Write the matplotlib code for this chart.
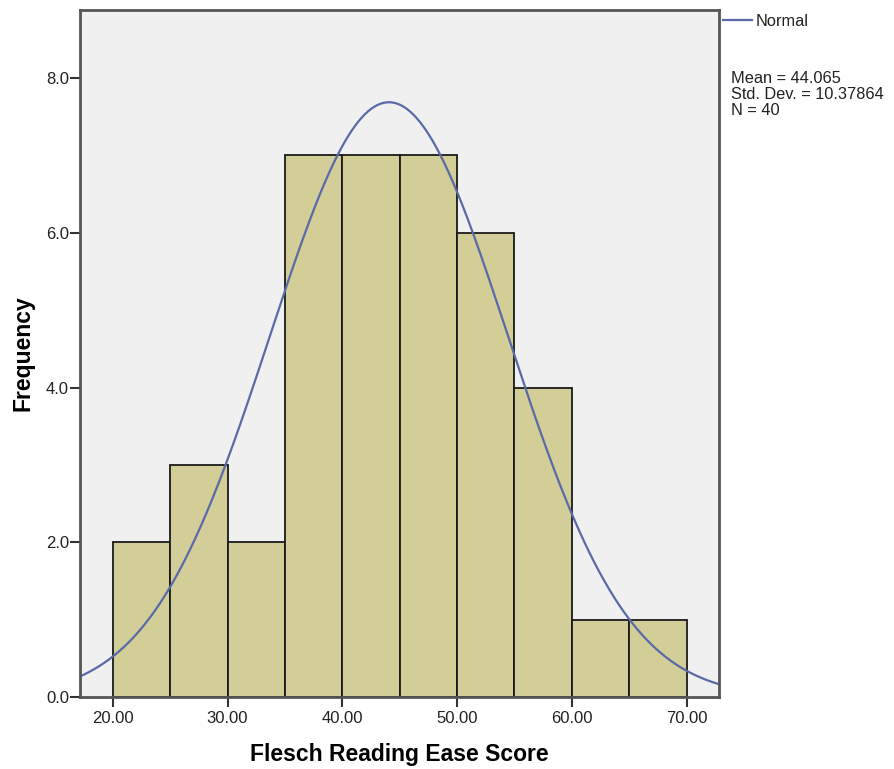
import numpy as np
import matplotlib
matplotlib.use("Agg")
import matplotlib.pyplot as plt

# Histogram bins (Flesch Reading Ease Score) and their counts
bin_edges = [20, 25, 30, 35, 40, 45, 50, 55, 60, 65, 70]
counts = [2, 3, 2, 7, 7, 7, 6, 4, 1, 1]

# Summary statistics for the fitted normal curve
mean = 44.065
std_dev = 10.37864
n_obs = 40

x_ticks = [20, 30, 40, 50, 60, 70]
x_tick_labels = ["20.00", "30.00", "40.00", "50.00", "60.00", "70.00"]
y_ticks = [0, 2, 4, 6, 8]
y_tick_labels = ["0.0", "2.0", "4.0", "6.0", "8.0"]

plt.rcParams["font.family"] = ["Liberation Sans", "DejaVu Sans"]

fig = plt.figure(figsize=(8.94, 7.69), dpi=100)
ax = fig.add_axes([0.0895, 0.0936, 0.7148, 0.8934])
ax.set_facecolor("#F0F0F0")

widths = np.diff(bin_edges)
ax.bar(bin_edges[:-1], counts, width=widths, align="edge",
       color="#D3CE97", edgecolor="#1A1A1A", linewidth=1.3, zorder=2)

# Normal curve scaled to counts per bin
xlim = (17.15, 72.82)
bw = bin_edges[1] - bin_edges[0]
xs = np.linspace(xlim[0], xlim[1], 400)
ys = n_obs * bw / (std_dev * np.sqrt(2 * np.pi)) * np.exp(-0.5 * ((xs - mean) / std_dev) ** 2)
ax.plot(xs, ys, color="#5A6AA8", linewidth=1.6, zorder=3)

ax.set_xlim(*xlim)
ax.set_ylim(0, 8.88)
ax.set_xticks(x_ticks)
ax.set_xticklabels(x_tick_labels)
ax.set_yticks(y_ticks)
ax.set_yticklabels(y_tick_labels)
ax.tick_params(axis="both", direction="out", length=7, width=1.5,
               color="#333333", labelsize=12, labelcolor="#222222")
ax.tick_params(axis="x", pad=3)
ax.tick_params(axis="y", pad=1)

for side in ax.spines.values():
    side.set_color("#555555")
    side.set_linewidth(2)
    side.set_zorder(4)

ax.set_xlabel("Flesch Reading Ease Score", fontsize=16.5, fontweight="bold", labelpad=12)
ax.set_ylabel("Frequency", fontsize=16.5, fontweight="bold", labelpad=8)

# Legend entry and statistics to the right of the plot
fig.lines.append(plt.Line2D([723 / 894, 752 / 894], [1 - 20 / 769, 1 - 20 / 769],
                            transform=fig.transFigure, color="#5A6AA8", linewidth=1.6))
fig.text(756 / 894, 1 - 22 / 769, "Normal", fontsize=11.8, va="center", ha="left", color="#222222")
stats = [f"Mean = {mean}", f"Std. Dev. = {std_dev}", f"N = {n_obs}"]
for i, line in enumerate(stats):
    fig.text(731 / 894, 1 - (83 + 16 * i) / 769, line, fontsize=11.8, va="baseline",
             ha="left", color="#222222")

fig.savefig("out.png", dpi=100)
